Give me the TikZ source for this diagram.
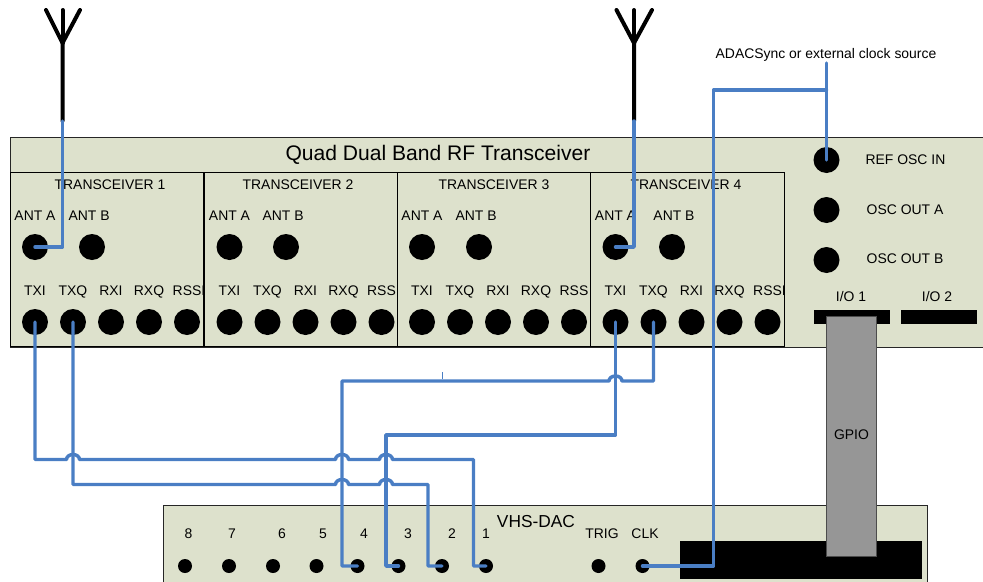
\documentclass[tikz,border=0pt]{standalone}
\usepackage{fontspec}
\setmainfont{Liberation Sans}
\usetikzlibrary{positioning, calc}

\definecolor{panelgreen}{HTML}{DDE1CC}
\definecolor{wireblue}{HTML}{4A7EC4}
\definecolor{gpiogray}{HTML}{969696}

% wire hop over a crossing wire, running left to right
\newcommand{\hop}[2]{-- (#1-6.5,#2) arc[start angle=180, end angle=360, x radius=6.5, y radius=5]}

\begin{document}
\begin{tikzpicture}[
    x=0.75pt, y=-0.75pt,
    font=\fontsize{10.45pt}{12pt}\selectfont,
    panelbox/.style={
        draw=black!85, line width=0.6pt, fill=panelgreen,
        anchor=north west, inner sep=0pt
    },
    unitbox/.style={
        draw=black, line width=0.55pt, fill=none,
        anchor=north west, inner sep=0pt,
        minimum width=145.2pt, minimum height=130.8pt
    },
    portdot/.style={
        circle, fill=black, inner sep=0pt, minimum size=19.5pt
    },
    dacdot/.style={
        circle, fill=black, inner sep=0pt, minimum size=10.5pt
    },
    portlabel/.style={
        inner sep=0pt, text height=7.5pt, text depth=2pt, label distance=8pt
    },
    blackbar/.style={
        fill=black, anchor=north west, inner sep=0pt
    },
    wire/.style={
        draw=wireblue, line width=2.6pt, line cap=round, line join=round
    },
    aerial/.style={
        draw=black, line width=3pt, line cap=round, line join=miter
    }
]
\useasboundingbox (0,0) rectangle (983,582);

% --- RF transceiver chassis ---
\node[panelbox, minimum width=735pt, minimum height=157.5pt] (rfpanel) at (9.8,136.5) {};
\node[font=\fontsize{15.8pt}{18pt}\selectfont] (rftitle) at (438,154.5) {Quad Dual Band RF Transceiver};
\node[unitbox] (unit1) at (9.8,172) {};
\node[unitbox] (unit2) at (203.8,172) {};
\node[unitbox] (unit3) at (396.8,172) {};
\node[unitbox] (unit4) at (590.3,172) {};

% --- Transceiver 1 ---
\node (title1) at (110,184.5) {TRANSCEIVER 1};
\node[portdot, label={[portlabel]above:ANT A}] (anta1) at (35,247) {};
\node[portdot, label={[portlabel, xshift=-2.2pt]above:ANT B}] (antb1) at (92,247) {};
\node[portdot, label={[portlabel]above:TXI}] (txi1) at (35,322) {};
\node[portdot, label={[portlabel]above:TXQ}, right=8.6pt of txi1] (txq1) {};
\node[portdot, label={[portlabel]above:RXI}, right=8.6pt of txq1] (rxi1) {};
\node[portdot, label={[portlabel]above:RXQ}, right=8.6pt of rxi1] (rxq1) {};
\node[portdot, label={[portlabel, xshift=1.5pt]above:RSSI}, right=8.6pt of rxq1] (rssi1) {};

% --- Transceiver 2 ---
\node (title2) at (298,184.5) {TRANSCEIVER 2};
\node[portdot, label={[portlabel]above:ANT A}] (anta2) at (229.5,247) {};
\node[portdot, label={[portlabel, xshift=-2.2pt]above:ANT B}] (antb2) at (286,247) {};
\node[portdot, label={[portlabel]above:TXI}] (txi2) at (229.5,322) {};
\node[portdot, label={[portlabel]above:TXQ}, right=8.6pt of txi2] (txq2) {};
\node[portdot, label={[portlabel]above:RXI}, right=8.6pt of txq2] (rxi2) {};
\node[portdot, label={[portlabel]above:RXQ}, right=8.6pt of rxi2] (rxq2) {};
\node[portdot, label={[portlabel]above:RSS}, right=8.6pt of rxq2] (rssi2) {};

% --- Transceiver 3 ---
\node (title3) at (494,184.5) {TRANSCEIVER 3};
\node[portdot, label={[portlabel]above:ANT A}] (anta3) at (422,247) {};
\node[portdot, label={[portlabel, xshift=-2.2pt]above:ANT B}] (antb3) at (479,247) {};
\node[portdot, label={[portlabel]above:TXI}] (txi3) at (422,322) {};
\node[portdot, label={[portlabel]above:TXQ}, right=8.6pt of txi3] (txq3) {};
\node[portdot, label={[portlabel]above:RXI}, right=8.6pt of txq3] (rxi3) {};
\node[portdot, label={[portlabel]above:RXQ}, right=8.6pt of rxi3] (rxq3) {};
\node[portdot, label={[portlabel]above:RSS}, right=8.6pt of rxq3] (rssi3) {};

% --- Transceiver 4 ---
\node (title4) at (686,184.5) {TRANSCEIVER 4};
\node[portdot, label={[portlabel]above:ANT A}] (anta4) at (615.5,247) {};
\node[portdot, label={[portlabel, xshift=1.5pt]above:ANT B}] (antb4) at (672,247) {};
\node[portdot, label={[portlabel]above:TXI}] (txi4) at (615.5,322) {};
\node[portdot, label={[portlabel]above:TXQ}, right=8.6pt of txi4] (txq4) {};
\node[portdot, label={[portlabel]above:RXI}, right=8.6pt of txq4] (rxi4) {};
\node[portdot, label={[portlabel]above:RXQ}, right=8.6pt of rxi4] (rxq4) {};
\node[portdot, label={[portlabel, xshift=1.5pt]above:RSSI}, right=8.6pt of rxq4] (rssi4) {};

% --- Oscillator ports and I/O ---
\node[portdot] (refosc) at (826.5,160) {};
\node[portdot] (oscouta) at (826.5,210) {};
\node[portdot] (oscoutb) at (826.5,260) {};
\node[right=19.2pt of refosc, inner sep=0pt] (reflabel) {REF OSC IN};
\node[right=20pt of oscouta, inner sep=0pt] (oscalabel) {OSC OUT A};
\node[right=20pt of oscoutb, inner sep=0pt, yshift=1.3pt] (oscblabel) {OSC OUT B};
\node (io1label) at (851,297) {I/O 1};
\node (io2label) at (937,297) {I/O 2};
\node[blackbar, minimum width=57pt, minimum height=10.5pt] (io1) at (814,309.5) {};
\node[blackbar, minimum width=57pt, minimum height=10.5pt] (io2) at (901,309.5) {};

% --- VHS-DAC chassis ---
\node[panelbox, minimum width=573pt, minimum height=75pt] (dacpanel) at (162.8,504.5) {};
\node[font=\fontsize{13pt}{15pt}\selectfont] (dactitle) at (536,522) {VHS-DAC};
\node[blackbar, minimum width=181.5pt, minimum height=29pt] (dacblock) at (680,540.5) {};
\node[dacdot] (dac8) at (185,566) {};
\node[dacdot] (dac7) at (229,566) {};
\node[dacdot] (dac6) at (273,566) {};
\node[dacdot] (dac5) at (316.5,566) {};
\node[dacdot] (dac4) at (357.5,566) {};
\node[dacdot] (dac3) at (398.5,566) {};
\node[dacdot] (dac2) at (442,566) {};
\node[dacdot] (dac1) at (486,566) {};
\node[dacdot] (dactrig) at (598.5,566) {};
\node[dacdot] (dacclk) at (642.5,566) {};
\node (num8) at (188.5,534) {8};
\node (num7) at (232,534) {7};
\node (num6) at (282,534) {6};
\node (num5) at (323,534) {5};
\node (num4) at (364,534) {4};
\node (num3) at (408,534) {3};
\node (num2) at (452,534) {2};
\node (num1) at (486,534) {1};
\node (triglabel) at (602,534) {TRIG};
\node (clklabel) at (645,534) {CLK};

% --- GPIO ribbon ---
\node[draw=black!70, line width=0.6pt, fill=gpiogray, anchor=north west, inner sep=0pt,
    minimum width=37pt, minimum height=180pt] (gpio) at (826.3,315.6) {};
\node (gpiolabel) at (851.5,435) {GPIO};

% --- Antennas ---
\coordinate (aerial1) at (62.5,43);
\coordinate (feed1) at (62.5,121);
\coordinate (aerial4) at (634,43);
\coordinate (feed4) at (634,121);
\draw[aerial] (feed1) -- (aerial1) -- (46,10);
\draw[aerial] (aerial1) -- (62.5,10);
\draw[aerial] (aerial1) -- (80,10);
\draw[aerial] (feed4) -- (aerial4) -- (616.5,10);
\draw[aerial] (aerial4) -- (634,10);
\draw[aerial] (aerial4) -- (652,10);
\draw[wire] (feed1) |- (anta1.center);
\draw[wire] (feed4) |- (anta4.center);

% --- Clock wiring ---
\node (clocksource) at (826,54.5) {ADACSync or external clock source};
\coordinate (clockstub) at (826.5,63);
\coordinate (clocksplit) at (826.5,90);
\draw[wire] (clockstub) -- (refosc.center);
\draw[wire] (clocksplit) -- (713.5,90) -- (713.5,566) -- (dacclk.center);

% --- I/Q wiring ---
\draw[wire] (txi1.center) -- (35,459.5) \hop{73}{459.5} \hop{342}{459.5} \hop{386}{459.5}
    -- (473.5,459.5) -- (473.5,566) -- (dac1.center);
\draw[wire] (txq1.center) -- (73,484.5) \hop{342}{484.5} \hop{386}{484.5}
    -- (428,484.5) -- (428,566) -- (dac2.center);
\draw[wire] (txi4.center) -- (615.5,435) -- (386,435) -- (386,566) -- (dac3.center);
\draw[wire] (dac4.center) -- (342,566) -- (342,381) \hop{615.5}{381}
    -- (653.5,381) -- (txq4.center);

% stray tick above the wire
\coordinate (ticktop) at (442,372);
\coordinate (tickend) at (442,379);
\draw[draw=wireblue, line width=0.6pt] (ticktop) -- (tickend);

\end{tikzpicture}
\end{document}
